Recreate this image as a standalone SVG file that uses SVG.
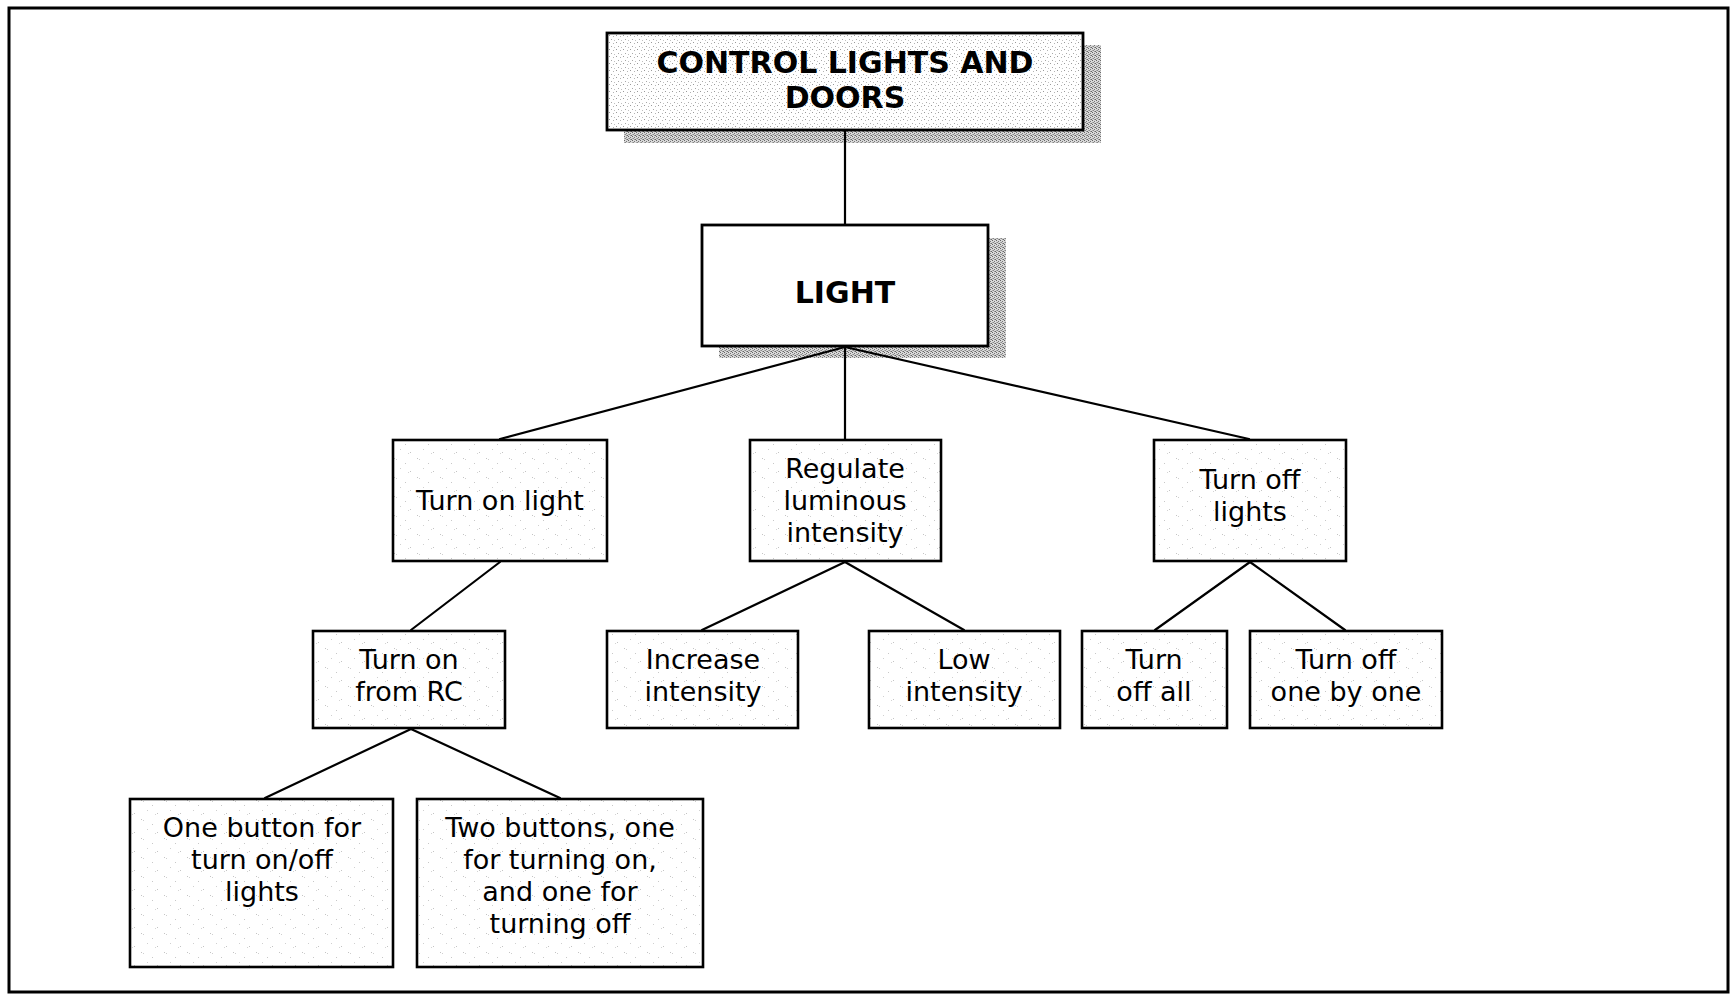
<svg xmlns="http://www.w3.org/2000/svg" width="1731" height="994" viewBox="0 0 1731 994">
  <defs>
    <!-- fine grain used inside the title box -->
    <pattern id="grainTitle" width="7" height="7" patternUnits="userSpaceOnUse">
      <rect width="7" height="7" fill="#ffffff"/>
      <rect x="0" y="0" width="1" height="1" fill="#9a9a9a"/>
      <rect x="4" y="1" width="1" height="1" fill="#b4b4b4"/>
      <rect x="2" y="4" width="1" height="1" fill="#a8a8a8"/>
      <rect x="5" y="5" width="1" height="1" fill="#c0c0c0"/>
    </pattern>
    <!-- dense grain used for drop shadows -->
    <pattern id="grainShadow" width="4" height="4" patternUnits="userSpaceOnUse">
      <rect width="4" height="4" fill="#d8d8d8"/>
      <rect x="0" y="0" width="1" height="1" fill="#666"/>
      <rect x="2" y="1" width="1" height="1" fill="#777"/>
      <rect x="1" y="2" width="1" height="1" fill="#888"/>
      <rect x="3" y="3" width="1" height="1" fill="#666"/>
      <rect x="2" y="3" width="1" height="1" fill="#999"/>
      <rect x="0" y="2" width="1" height="1" fill="#aaa"/>
    </pattern>
    <!-- sparse speckle for the ordinary boxes -->
    <pattern id="grainLight" width="23" height="19" patternUnits="userSpaceOnUse">
      <rect width="23" height="19" fill="#ffffff"/>
      <rect x="3" y="2" width="1" height="1" fill="#c4c4c4"/>
      <rect x="5" y="3" width="1" height="1" fill="#cfcfcf"/>
      <rect x="14" y="7" width="1" height="1" fill="#c8c8c8"/>
      <rect x="9" y="12" width="1" height="1" fill="#d0d0d0"/>
      <rect x="19" y="15" width="1" height="1" fill="#c4c4c4"/>
      <rect x="17" y="16" width="1" height="1" fill="#d4d4d4"/>
    </pattern>
  </defs>
  <style>
    .box { stroke: #000; stroke-width: 2.6; fill: url(#grainLight); }
    .title { stroke: #000; stroke-width: 2.8; fill: url(#grainTitle); }
    .plain { stroke: #000; stroke-width: 2.8; fill: #ffffff; }
    .shadow { fill: url(#grainShadow); stroke: none; }
    .edge { stroke: #000; stroke-width: 2.2; fill: none; stroke-linecap: round; }
    .lbl { font-family: "DejaVu Sans", Verdana, sans-serif; font-size: 27px; fill: #000; text-anchor: middle; }
    .hdr { font-family: "DejaVu Sans", Verdana, sans-serif; font-size: 30px; font-weight: bold; fill: #000; text-anchor: middle; }
  </style>

  <rect width="1731" height="994" fill="#ffffff"/>
  <!-- outer frame -->
  <rect x="9" y="8" width="1719" height="984" fill="none" stroke="#000" stroke-width="3"/>

  <g id="node-control">
    <rect class="shadow" x="624" y="45" width="477" height="98"/>
    <rect class="title" x="607" y="33" width="476" height="97"/>
    <text class="hdr" x="845" y="73">CONTROL LIGHTS AND</text>
    <text class="hdr" x="845" y="108">DOORS</text>
  </g>

  <g id="node-light">
    <rect class="shadow" x="719" y="238" width="287" height="120"/>
    <rect class="plain" x="702" y="225" width="286" height="121"/>
    <text class="hdr" x="845" y="303">LIGHT</text>
  </g>

  <g id="node-turn-on-light">
    <rect class="box" x="393" y="440" width="214" height="121"/>
    <text class="lbl" x="500" y="510">Turn on light</text>
  </g>

  <g id="node-regulate">
    <rect class="box" x="750" y="440" width="191" height="121"/>
    <text class="lbl" x="845" y="478">Regulate</text>
    <text class="lbl" x="845" y="510">luminous</text>
    <text class="lbl" x="845" y="542">intensity</text>
  </g>

  <g id="node-turn-off-lights">
    <rect class="box" x="1154" y="440" width="192" height="121"/>
    <text class="lbl" x="1250" y="489">Turn off</text>
    <text class="lbl" x="1250" y="521">lights</text>
  </g>

  <g id="node-turn-on-rc">
    <rect class="box" x="313" y="631" width="192" height="97"/>
    <text class="lbl" x="409" y="669">Turn on</text>
    <text class="lbl" x="409" y="701">from RC</text>
  </g>

  <g id="node-increase">
    <rect class="box" x="607" y="631" width="191" height="97"/>
    <text class="lbl" x="703" y="669">Increase</text>
    <text class="lbl" x="703" y="701">intensity</text>
  </g>

  <g id="node-low">
    <rect class="box" x="869" y="631" width="191" height="97"/>
    <text class="lbl" x="964" y="669">Low</text>
    <text class="lbl" x="964" y="701">intensity</text>
  </g>

  <g id="node-off-all">
    <rect class="box" x="1082" y="631" width="145" height="97"/>
    <text class="lbl" x="1154" y="669">Turn</text>
    <text class="lbl" x="1154" y="701">off all</text>
  </g>

  <g id="node-off-one">
    <rect class="box" x="1250" y="631" width="192" height="97"/>
    <text class="lbl" x="1346" y="669">Turn off</text>
    <text class="lbl" x="1346" y="701">one by one</text>
  </g>

  <g id="node-one-button">
    <rect class="box" x="130" y="799" width="263" height="168"/>
    <text class="lbl" x="262" y="837">One button for</text>
    <text class="lbl" x="262" y="869">turn on/off</text>
    <text class="lbl" x="262" y="901">lights</text>
  </g>

  <g id="node-two-buttons">
    <rect class="box" x="417" y="799" width="286" height="168"/>
    <text class="lbl" x="560" y="837">Two buttons, one</text>
    <text class="lbl" x="560" y="869">for turning on,</text>
    <text class="lbl" x="560" y="901">and one for</text>
    <text class="lbl" x="560" y="933">turning off</text>
  </g>

  <!-- connectors, drawn over the drop shadows -->
  <g id="connectors">
    <line class="edge" x1="845" y1="131" x2="845" y2="224"/>
    <line class="edge" x1="845" y1="347" x2="500" y2="439"/>
    <line class="edge" x1="845" y1="347" x2="845" y2="439"/>
    <line class="edge" x1="845" y1="347" x2="1249" y2="439"/>
    <line class="edge" x1="500" y1="562" x2="411" y2="630"/>
    <line class="edge" x1="845" y1="562" x2="702" y2="630"/>
    <line class="edge" x1="845" y1="562" x2="964" y2="630"/>
    <line class="edge" x1="1250" y1="562" x2="1155" y2="630"/>
    <line class="edge" x1="1250" y1="562" x2="1345" y2="630"/>
    <line class="edge" x1="411" y1="729" x2="265" y2="798"/>
    <line class="edge" x1="411" y1="729" x2="560" y2="798"/>
  </g>
</svg>
